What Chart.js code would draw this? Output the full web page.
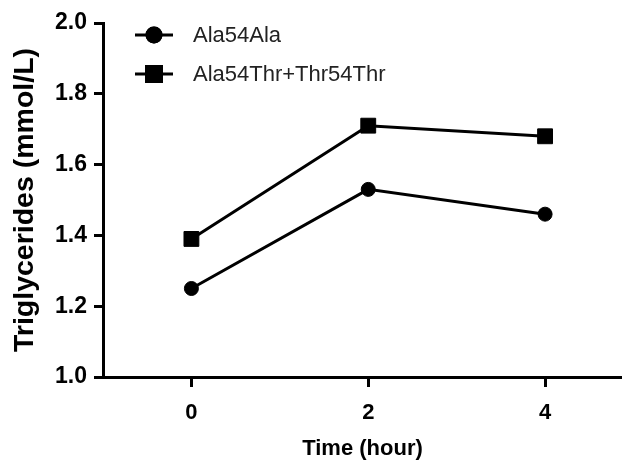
<!DOCTYPE html>
<html>
<head>
<meta charset="utf-8">
<script src="https://cdn.jsdelivr.net/npm/chart.js@4"></script>
<style>
    html, body { margin: 0; padding: 0; background: #fff; }
    #wrap { width: 622px; height: 462px; }
</style>
</head>
<body>
<div id="wrap"><canvas id="tgChart" width="622" height="462"></canvas></div>
<script>
// Values
const timePoints = [0, 2, 4];
const ala54Ala = [1.25, 1.53, 1.46];
const thrCarriers = [1.39, 1.71, 1.68];
const seriesNames = ['Ala54Ala', 'Ala54Thr+Thr54Thr'];
const xTickValues = [0, 2, 4];
const yTickValues = [1.0, 1.2, 1.4, 1.6, 1.8, 2.0];

const FONT = "'Liberation Sans', Arial, sans-serif";

function toPoints(ys) {
    return timePoints.map((t, i) => ({ x: t, y: ys[i] }));
}

// Legend drawn in the upper left of the plot, like the original
const legendPlugin = {
    id: 'insideLegend',
    afterDraw(chart) {
        const ctx = chart.ctx;
        const rows = [35, 74];
        ctx.save();
        chart.data.datasets.forEach((ds, i) => {
            const y = rows[i];
            ctx.strokeStyle = ds.borderColor;
            ctx.lineWidth = ds.borderWidth;
            ctx.beginPath();
            ctx.moveTo(135, y);
            ctx.lineTo(173, y);
            ctx.stroke();
            Chart.helpers.drawPoint(ctx, {
                pointStyle: ds.pointStyle,
                radius: ds.pointRadius,
                borderWidth: 1
            }, 154, y);
            ctx.fillStyle = ds.pointBackgroundColor;
            ctx.strokeStyle = ds.pointBackgroundColor;
            ctx.fill();
            ctx.stroke();
            ctx.fillStyle = '#222';
            ctx.font = '22px ' + FONT;
            ctx.textBaseline = 'middle';
            ctx.textAlign = 'left';
            ctx.fillText(ds.label, 193, y + 1);
        });
        ctx.restore();
    }
};

document.addEventListener('DOMContentLoaded', function() {
    const ctx = document.getElementById('tgChart').getContext('2d');
    new Chart(ctx, {
        type: 'line',
        data: {
            datasets: [{
                label: seriesNames[0],
                data: toPoints(ala54Ala),
                borderColor: '#000',
                borderWidth: 3,
                pointStyle: 'circle',
                pointRadius: 7,
                pointBackgroundColor: '#000',
                pointBorderColor: '#000',
                pointBorderWidth: 1
            }, {
                label: seriesNames[1],
                data: toPoints(thrCarriers),
                borderColor: '#000',
                borderWidth: 3,
                pointStyle: 'rect',
                pointRadius: 10.5,
                pointBackgroundColor: '#000',
                pointBorderColor: '#000',
                pointBorderWidth: 1
            }]
        },
        options: {
            responsive: false,
            animation: false,
            clip: false,
            layout: { autoPadding: false, padding: { top: 23, right: 0, bottom: 0, left: 0 } },
            plugins: {
                legend: { display: false },
                tooltip: { enabled: false }
            },
            scales: {
                x: {
                    type: 'linear',
                    min: -1,
                    max: 4.87,
                    afterBuildTicks: (scale) => {
                        scale.ticks = xTickValues.map(v => ({ value: v }));
                    },
                    afterFit: (scale) => { scale.height = 85; },
                    border: { display: true, color: '#000', width: 3 },
                    grid: {
                        drawOnChartArea: false,
                        drawTicks: true,
                        tickLength: 10,
                        tickWidth: 3,
                        tickColor: '#000'
                    },
                    ticks: {
                        color: '#000',
                        padding: 13,
                        font: { family: FONT, size: 22, weight: 'bold' }
                    },
                    title: {
                        display: true,
                        text: 'Time (hour)',
                        color: '#000',
                        padding: { top: 0, bottom: 0 },
                        font: { family: FONT, size: 22, weight: 'bold' }
                    }
                },
                y: {
                    min: 1.0,
                    max: 2.0,
                    afterBuildTicks: (scale) => {
                        scale.ticks = yTickValues.map(v => ({ value: v }));
                    },
                    afterFit: (scale) => { scale.width = 103; },
                    border: { display: true, color: '#000', width: 3 },
                    grid: {
                        drawOnChartArea: false,
                        drawTicks: true,
                        tickLength: 9,
                        tickWidth: 3,
                        tickColor: '#000'
                    },
                    ticks: {
                        color: '#000',
                        padding: 7,
                        callback: (v) => Number(v).toFixed(1),
                        font: { family: FONT, size: 23, weight: 'bold' }
                    },
                    title: {
                        display: true,
                        text: 'Triglycerides (mmol/L)',
                        color: '#000',
                        padding: { top: 8, bottom: 0 },
                        font: { family: FONT, size: 28.5, weight: 'bold' }
                    }
                }
            }
        },
        plugins: [legendPlugin]
    });
});
</script>
</body>
</html>
